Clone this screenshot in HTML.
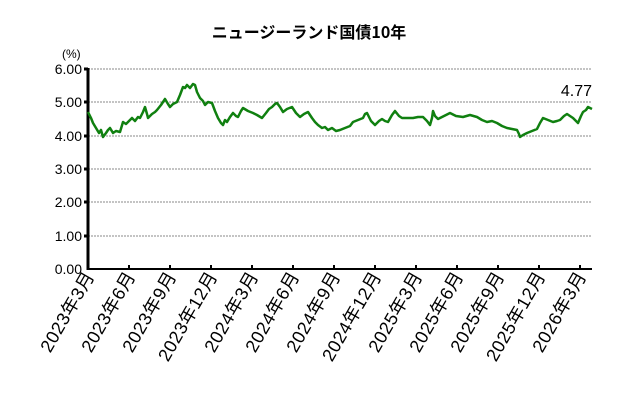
<!DOCTYPE html>
<html><head><meta charset="utf-8"><style>
body{margin:0;background:#fff;}
svg{display:block;font-family:"Liberation Sans","Noto Sans CJK JP",sans-serif;}
</style></head><body>
<svg width="618" height="403" viewBox="0 0 618 403">
<rect width="618" height="403" fill="#fff"/>
<text x="309" y="38" text-anchor="middle" font-size="16" font-weight="bold" font-family="'Noto Sans CJK JP',sans-serif">ニュージーランド国債10年</text>
<text x="62" y="58" font-size="12">(%)</text>
<g stroke="#888" stroke-width="1" stroke-dasharray="2,1">
<line x1="88" y1="69" x2="592" y2="69"/><line x1="88" y1="102" x2="592" y2="102"/>
<line x1="88" y1="136" x2="592" y2="136"/><line x1="88" y1="169" x2="592" y2="169"/>
<line x1="88" y1="202" x2="592" y2="202"/><line x1="88" y1="236" x2="592" y2="236"/>
</g>
<line x1="88" y1="269" x2="592" y2="269" stroke="#000" stroke-width="2"/>
<line x1="88" y1="68" x2="88" y2="270" stroke="#000" stroke-width="3"/>
<g stroke="#000" stroke-width="3">
<line x1="84" y1="69" x2="88" y2="69"/><line x1="84" y1="102" x2="88" y2="102"/><line x1="84" y1="136" x2="88" y2="136"/><line x1="84" y1="169" x2="88" y2="169"/><line x1="84" y1="202" x2="88" y2="202"/><line x1="84" y1="236" x2="88" y2="236"/>
</g>
<g font-size="14" text-anchor="end">
<text x="82" y="74">6.00</text><text x="82" y="107">5.00</text><text x="82" y="141">4.00</text><text x="82" y="174">3.00</text><text x="82" y="207">2.00</text><text x="82" y="241">1.00</text><text x="82" y="274">0.00</text>
</g>
<g stroke="#000" stroke-width="2">
<line x1="129" y1="265" x2="129" y2="269"/><line x1="170" y1="265" x2="170" y2="269"/><line x1="211" y1="265" x2="211" y2="269"/><line x1="252" y1="265" x2="252" y2="269"/><line x1="293" y1="265" x2="293" y2="269"/><line x1="334" y1="265" x2="334" y2="269"/><line x1="375" y1="265" x2="375" y2="269"/><line x1="416" y1="265" x2="416" y2="269"/><line x1="457" y1="265" x2="457" y2="269"/><line x1="498" y1="265" x2="498" y2="269"/><line x1="539" y1="265" x2="539" y2="269"/><line x1="580" y1="265" x2="580" y2="269"/>
</g>
<g font-size="18" text-anchor="end" letter-spacing="0.5">
<text transform="translate(95,276) rotate(-60)">2023年3月</text>
<text transform="translate(136,276) rotate(-60)">2023年6月</text>
<text transform="translate(177,276) rotate(-60)">2023年9月</text>
<text transform="translate(218,276) rotate(-60)">2023年12月</text>
<text transform="translate(259,276) rotate(-60)">2024年3月</text>
<text transform="translate(300,276) rotate(-60)">2024年6月</text>
<text transform="translate(341,276) rotate(-60)">2024年9月</text>
<text transform="translate(382,276) rotate(-60)">2024年12月</text>
<text transform="translate(423,276) rotate(-60)">2025年3月</text>
<text transform="translate(464,276) rotate(-60)">2025年6月</text>
<text transform="translate(505,276) rotate(-60)">2025年9月</text>
<text transform="translate(546,276) rotate(-60)">2025年12月</text>
<text transform="translate(587,276) rotate(-60)">2026年3月</text>
</g>
<polyline fill="none" stroke="#108010" stroke-width="2.5" stroke-linejoin="round" points="
88,112 91,118 93,123 96,128 99,133 101,130 103,137 106,133 108,130 110,128 113,133 116,131 120,132 123,122 126,124 129,121 132,118 135,121 138,117 140,118 143,112 145,107 147,114 148,118 152,114 155,112 157,110 161,105 165,99 168,104 170,107 173,104 177,102 180,95 183,87 185,88 187,85 190,88 193,84 195,85 197,92 200,98 203,101 205,105 208,102 212,103 215,111 218,118 221,123 223,125 225,120 227,122 230,117 233,113 236,116 238,117 241,111 243,108 248,111 253,113 257,115 262,118 266,113 269,109 272,107 275,104 277,103 280,107 283,112 287,109 292,107 296,113 300,117 304,114 308,112 312,118 315,122 318,125 322,128 325,127 328,130 332,128 336,131 340,130 345,128 350,126 353,122 358,120 363,118 365,114 367,113 371,121 375,125 379,121 382,119 385,121 388,122 392,115 395,111 399,116 402,118 407,118 413,118 418,117 423,117 427,121 430,125 432,118 433,111 435,116 438,119 444,116 450,113 456,116 463,117 470,115 477,117 482,120 487,122 492,121 497,123 502,126 507,128 512,129 517,130 519,134 520,137 523,135 527,133 532,131 537,129 540,123 543,118 548,120 553,122 557,121 560,120 564,116 567,114 570,116 573,118 576,121 578,123 581,116 583,112 586,110 588,107 590,108 592,109"/>
<text x="592" y="96" font-size="16" text-anchor="end">4.77</text>
</svg>
</body></html>
